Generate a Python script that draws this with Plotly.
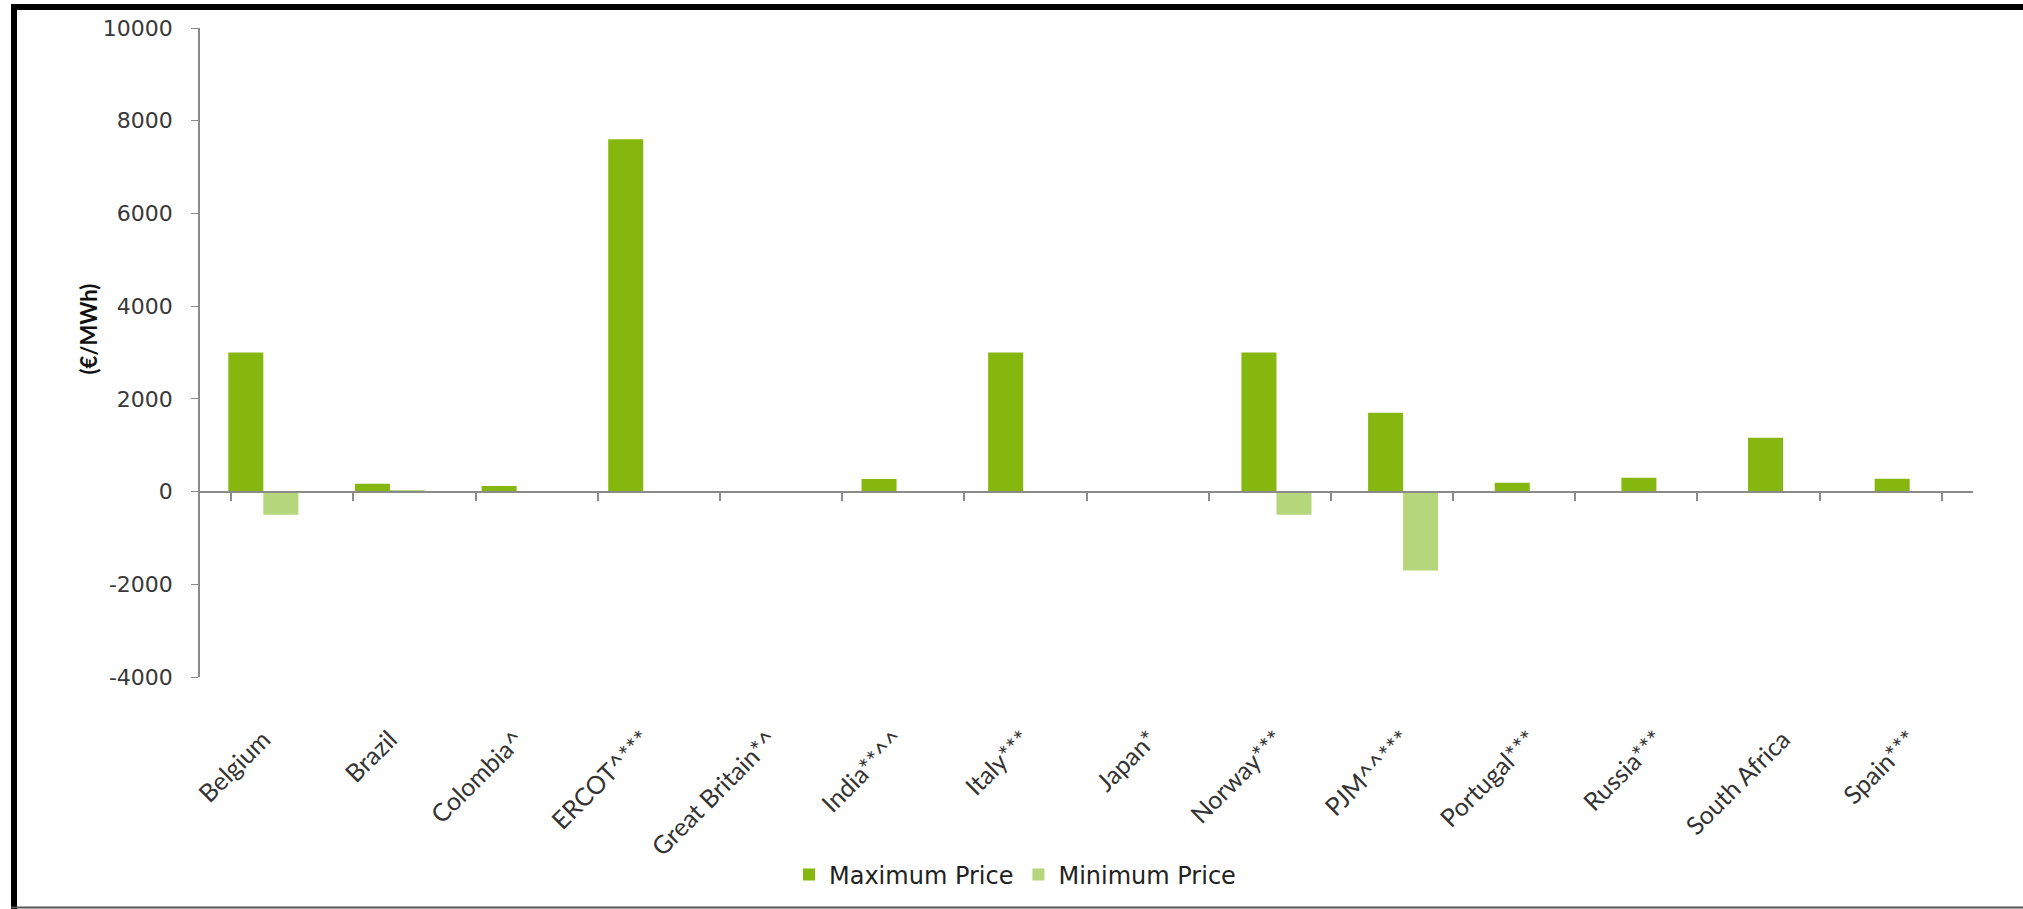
import plotly.graph_objects as go

categories = ["Belgium", "Brazil", "Colombia^", "ERCOT^***", "Great Britain*^", "India**^^",
              "Italy***", "Japan*", "Norway***", "PJM^^***", "Portugal***", "Russia***",
              "South Africa", "Spain***"]
max_price = [3000, 170, 120, 7600, None, 270, 3000, None, 3000, 1700, 190, 300, 1160, 275]
min_price = [-500, 20, None, None, None, None, None, None, -500, -1700, None, None, None, None]
y_ticks = [-4000, -2000, 0, 2000, 4000, 6000, 8000, 10000]
y_tick_labels = ["-4000", "-2000", "0", "2000", "4000", "6000", "8000", "10000"]

W, H = 2023, 909
L, R, T, B = 200, 50, 28, 232
pw, ph = W - L - R, H - T - B

def px_x(x):
    return (x - L) / pw

def px_y(y):
    return (H - B - y) / ph

fig = go.Figure()
fig.add_trace(go.Bar(x=categories, y=max_price, name="Maximum Price",
                     marker=dict(color="#86b70f", line=dict(width=0))))
fig.add_trace(go.Bar(x=categories, y=min_price, name="Minimum Price",
                     marker=dict(color="#b5d67a", line=dict(width=0))))
# invisible trace carrying the categories for the axis drawn at y = 0
fig.add_trace(go.Scatter(x=categories, y=[0] * len(categories), xaxis="x2", mode="markers",
                         marker=dict(opacity=0), showlegend=False, hoverinfo="skip"))

zero_pos = (0 - y_ticks[0]) / (y_ticks[-1] - y_ticks[0])

fig.update_layout(
    width=W, height=H,
    margin=dict(l=L, r=R, t=T, b=B),
    paper_bgcolor="white", plot_bgcolor="white",
    barmode="group", bargap=0.447, bargroupgap=0,
    font=dict(family="DejaVu Sans", color="#3a3a3a"),
    xaxis=dict(type="category", showline=False, ticks="", showgrid=False, zeroline=False,
               tickangle=-45, tickfont=dict(family="Lato", size=25, color="#333333"),
               ticklabelstandoff=42),
    xaxis2=dict(type="category", overlaying="x", anchor="free", position=zero_pos,
                showline=True, linecolor="#8a8a8a", linewidth=2, ticks="outside",
                tickson="boundaries", ticklen=8, tickcolor="#8a8a8a", tickwidth=1.5,
                showticklabels=False, showgrid=False, zeroline=False),
    yaxis=dict(range=[y_ticks[0], y_ticks[-1]], tickvals=y_ticks, ticktext=y_tick_labels,
               showgrid=False, zeroline=False, showline=True, linecolor="#8a8a8a",
               linewidth=1.5, ticks="outside", ticklen=7, tickcolor="#8a8a8a",
               ticklabelstandoff=14,
               tickfont=dict(family="DejaVu Sans", size=22, color="#383838")),
    legend=dict(orientation="h", x=px_x(1015), y=px_y(875), xanchor="center", yanchor="middle",
                font=dict(family="DejaVu Sans", size=24, color="#222222"),
                itemwidth=30, traceorder="normal"),
    annotations=[dict(text="<b>(€/MWh)</b>", xref="paper", yref="paper",
                      x=px_x(72), y=px_y(329), showarrow=False, textangle=-90,
                      font=dict(family="Lato", size=22, color="#111111"))],
    shapes=[
        dict(type="line", xref="paper", yref="paper", x0=px_x(14), x1=px_x(14),
             y0=px_y(909), y1=px_y(4), line=dict(color="black", width=6)),
        dict(type="line", xref="paper", yref="paper", x0=px_x(11), x1=px_x(2023),
             y0=px_y(7), y1=px_y(7), line=dict(color="black", width=6)),
        dict(type="line", xref="paper", yref="paper", x0=px_x(11), x1=px_x(2023),
             y0=px_y(907.5), y1=px_y(907.5), line=dict(color="#555555", width=2)),
    ],
)

fig.write_html("out.html", config={"displayModeBar": False},
               post_script="document.body.style.margin='0';document.body.style.overflow='hidden';")
